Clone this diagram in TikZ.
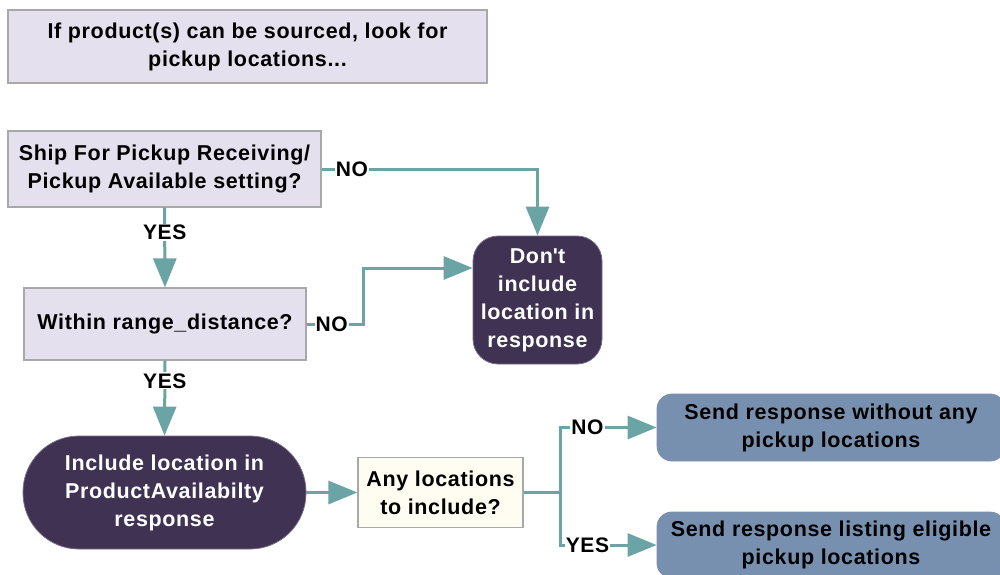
\documentclass[tikz,border=0pt]{standalone}
\usepackage{fontspec}
\setmainfont{Liberation Sans}[LetterSpace=3]
\usetikzlibrary{arrows.meta}

\definecolor{lav}{RGB}{229,224,237}
\definecolor{boxedge}{RGB}{168,168,168}
\definecolor{plum}{RGB}{63,50,82}
\definecolor{plumedge}{RGB}{120,110,135}
\definecolor{teal}{RGB}{107,164,164}
\definecolor{cream}{RGB}{255,252,242}
\definecolor{steel}{RGB}{120,144,176}

\tikzset{
  base/.style={font=\fontsize{21.5}{28}\selectfont\bfseries, align=center, inner sep=0pt},
  graybox/.style={base, draw=boxedge, fill=lav, line width=1.2pt},
  darkbox/.style={base, draw=plumedge, fill=plum, text=white, line width=0.8pt},
  creambox/.style={base, draw=boxedge, fill=cream, line width=1.2pt},
  bluebox/.style={base, draw=steel!85!gray, fill=steel, line width=0.8pt, rounded corners=15pt},
  wire/.style={draw=teal, line width=3pt},
  conn/.style={wire, -{Triangle[length=29pt,width=23pt]}},
  lbl/.style={font=\fontsize{21}{24}\selectfont\bfseries, fill=white, inner sep=1pt}
}

\begin{document}
\begin{tikzpicture}[x=1pt,y=-1pt]
\useasboundingbox (0,0) rectangle (1000,574);
\clip (0,0) rectangle (1000,574);
\fill[white] (0,0) rectangle (1000,574);

% boxes
\node[graybox, minimum width=479pt, minimum height=73pt] (title) at (247.5,46.5)
  {If product(s) can be sourced, look for\\pickup locations...};
\node[graybox, minimum width=313pt, minimum height=76pt] (b1) at (164.5,169)
  {Ship For Pickup Receiving/\\Pickup Available setting?};
\node[graybox, minimum width=282pt, minimum height=72pt] (b2) at (165,324)
  {Within range\_distance?};
\node[darkbox, rounded corners=25pt, minimum width=129pt, minimum height=128pt] (d1) at (537.5,300)
  {Don\textquotesingle t\\include\\location in\\response};
\node[darkbox, rounded corners=56pt, minimum width=283pt, minimum height=113pt] (inc) at (164.5,492.5)
  {Include location in\\ProductAvailabilty\\response};
\node[creambox, minimum width=165pt, minimum height=70pt] (any) at (440.5,492.5)
  {Any locations\\to include?};
\node[bluebox, minimum width=348pt, minimum height=67pt] (s1) at (831,427.5)
  {Send response without any\\pickup locations};
\node[bluebox, minimum width=348pt, minimum height=66pt] (s2) at (831,545)
  {Send response listing eligible\\pickup locations};

% connectors
\draw[conn] (b1.east) -| node[lbl, pos=0.07] {NO} (d1.north);
\draw[conn] (b1.south) -- node[lbl, pos=0.31] {YES} (b2.north);
\draw[conn] (b2.east) -- node[lbl, pos=0.44] {NO} ++(57,0) |- ([yshift=32pt]d1.west);
\draw[conn] (b2.south) -- node[lbl, pos=0.27] {YES} (inc.north);
\draw[conn] (inc.east) -- (any.west);
\draw[wire] (any.east) -- ++(37,0) coordinate (fork);
\draw[wire] (fork) -- ++(0,-65) -- ++(0,117);
\draw[conn] (fork) |- node[lbl, pos=0.64] {NO} (s1.west);
\draw[conn] (fork) |- node[lbl, pos=0.64] {YES} (s2.west);
\end{tikzpicture}
\end{document}
